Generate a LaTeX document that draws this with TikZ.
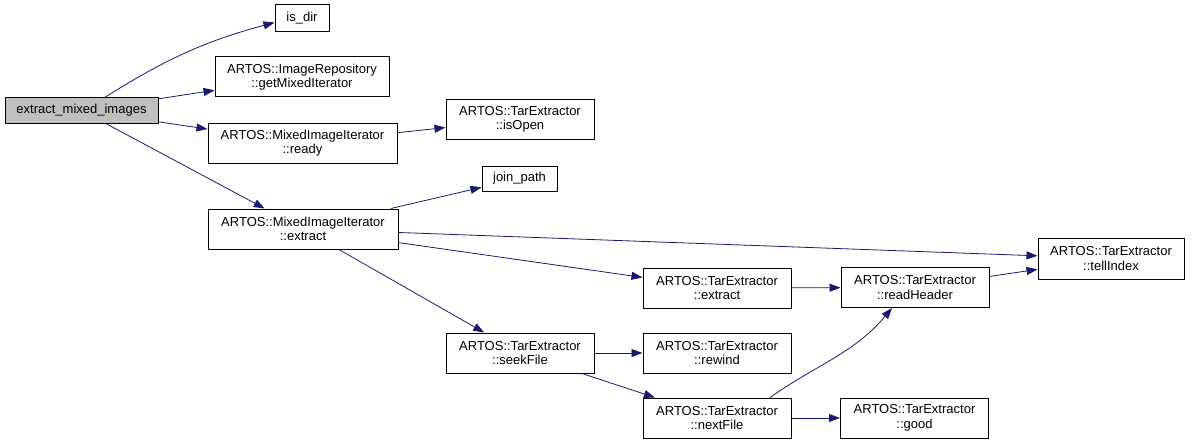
\documentclass[tikz,border=0pt]{standalone}
\usepackage{fontspec}
\setmainfont{Liberation Sans}
\usetikzlibrary{arrows.meta,calc}
\definecolor{edgeblue}{HTML}{191970}
\definecolor{rootgray}{HTML}{BFBFBF}

\begin{document}
\begin{tikzpicture}[x=1pt,y=1pt,
    fnbox/.style={draw=black,line width=1pt,fill=white,align=center,inner sep=0pt,
      minimum width=148pt,minimum height=40pt,font=\fontsize{13}{14.5}\selectfont},
    call/.style={edgeblue,line width=0.8pt,-{Triangle[length=11pt,width=8pt]}}]
  \useasboundingbox (0,0) rectangle (1192,-444);

  % Root function
  \node[fnbox,fill=rootgray,minimum width=153pt,minimum height=25pt] (emi) at (81.5,-110.5) {extract\_mixed\_images};

  % First level
  \node[fnbox,minimum width=54pt,minimum height=27pt] (isdir) at (302,-18.5) {is\_dir};
  \node[fnbox,minimum width=174pt] (gmi) at (302,-77) {ARTOS::ImageRepository\\::getMixedIterator};
  \node[fnbox,minimum width=189pt] (ready) at (302.5,-143) {ARTOS::MixedImageIterator\\::ready};
  \node[fnbox,minimum width=190pt] (miiextract) at (303,-229) {ARTOS::MixedImageIterator\\::extract};

  % Second level
  \node[fnbox] (isopen) at (520,-119.5) {ARTOS::TarExtractor\\::isOpen};
  \node[fnbox,minimum width=75pt,minimum height=25pt] (joinpath) at (519.5,-178.5) {join\_path};
  \node[fnbox] (seekfile) at (520,-353) {ARTOS::TarExtractor\\::seekFile};

  % Third level
  \node[fnbox] (teextract) at (717,-288) {ARTOS::TarExtractor\\::extract};
  \node[fnbox] (rewind) at (717,-353) {ARTOS::TarExtractor\\::rewind};
  \node[fnbox] (nextfile) at (717,-418) {ARTOS::TarExtractor\\::nextFile};

  % Fourth level
  \node[fnbox] (readheader) at (915,-287.5) {ARTOS::TarExtractor\\::readHeader};
  \node[fnbox] (good) at (914.5,-418) {ARTOS::TarExtractor\\::good};
  \node[fnbox,minimum width=146pt,minimum height=41pt] (tellindex) at (1111,-258.5) {ARTOS::TarExtractor\\::tellIndex};

  % Calls
  \draw[call] ([xshift=23pt]emi.north) to[out=32,in=195] ([yshift=-4pt]isdir.west);
  \draw[call] (emi) -- (gmi);
  \draw[call] (emi) -- (ready);
  \draw[call] (emi) -- (miiextract);
  \draw[call] (ready) -- (isopen);
  \draw[call] (miiextract) -- (joinpath);
  \draw[call] (miiextract) -- (tellindex);
  \draw[call] (miiextract) -- (teextract);
  \draw[call] (miiextract) -- (seekfile);
  \draw[call] (teextract) -- (readheader);
  \draw[call] (readheader) -- (tellindex);
  \draw[call] (seekfile) -- (rewind);
  \draw[call] (seekfile) -- (nextfile);
  \draw[call] (nextfile) -- (good);
  \draw[call] ([xshift=53pt]nextfile.north) to[out=35,in=230] ([xshift=-23pt]readheader.south);
\end{tikzpicture}
\end{document}
